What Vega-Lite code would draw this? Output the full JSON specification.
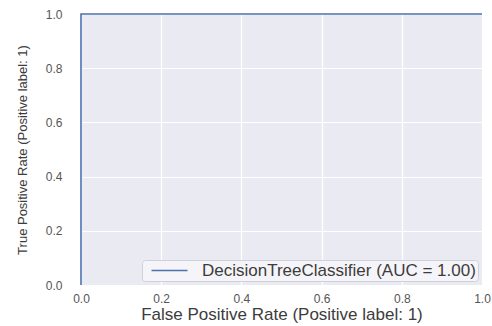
{
  "$schema": "https://vega.github.io/schema/vega-lite/v6.json",
  "autosize": "none",
  "width": 401,
  "height": 271,
  "padding": {"left": 81, "top": 14, "right": 10, "bottom": 41},
  "background": "white",
  "config": {
    "font": "Liberation Sans",
    "view": {"fill": "#EAEAF2", "stroke": null},
    "axis": {
      "domain": false,
      "ticks": false,
      "grid": true,
      "gridColor": "white",
      "gridWidth": 1.2,
      "labelFont": "Liberation Sans",
      "labelFontSize": 12,
      "labelColor": "#555555",
      "titleFont": "Liberation Sans",
      "titleFontWeight": "normal",
      "titleColor": "#3c3c3c"
    },
    "legend": {
      "labelFont": "Liberation Sans",
      "labelFontSize": 17,
      "labelColor": "#3c3c3c",
      "labelLimit": 0
    }
  },
  "data": {
    "values": [
      {"fpr": 0, "tpr": 0, "order": 0, "model": "DecisionTreeClassifier (AUC = 1.00)"},
      {"fpr": 0, "tpr": 1, "order": 1, "model": "DecisionTreeClassifier (AUC = 1.00)"},
      {"fpr": 1, "tpr": 1, "order": 2, "model": "DecisionTreeClassifier (AUC = 1.00)"}
    ]
  },
  "mark": {"type": "line", "strokeWidth": 1.6},
  "encoding": {
    "x": {
      "field": "fpr",
      "type": "quantitative",
      "scale": {"domain": [0, 1], "nice": false},
      "axis": {
        "title": "False Positive Rate (Positive label: 1)",
        "titleFontSize": 17,
        "titlePadding": 2,
        "labelPadding": 8,
        "values": [0, 0.2, 0.4, 0.6, 0.8, 1],
        "format": ".1f",
        "labelFlush": false
      }
    },
    "y": {
      "field": "tpr",
      "type": "quantitative",
      "scale": {"domain": [0, 1], "nice": false},
      "axis": {
        "title": "True Positive Rate (Positive label: 1)",
        "titleFontSize": 13,
        "titlePadding": 16,
        "labelPadding": 19,
        "values": [0, 0.2, 0.4, 0.6, 0.8, 1],
        "format": ".1f",
        "labelFlush": false
      }
    },
    "order": {"field": "order", "type": "quantitative"},
    "color": {
      "field": "model",
      "type": "nominal",
      "scale": {"range": ["#4C72B0"]},
      "legend": {
        "title": null,
        "orient": "bottom-right",
        "offset": 4,
        "fillColor": "#F5F5F9",
        "strokeColor": "#D0D0D8",
        "cornerRadius": 3,
        "padding": 2,
        "symbolType": "M-1,0H5",
        "symbolSize": 144,
        "symbolStrokeWidth": 1.6,
        "symbolOffset": 5,
        "labelOffset": 36
      }
    }
  }
}
